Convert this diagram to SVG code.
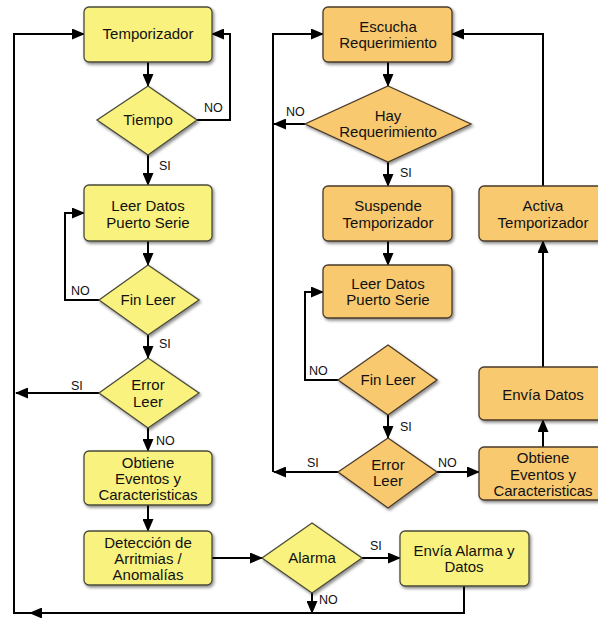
<svg xmlns="http://www.w3.org/2000/svg" width="598" height="618" viewBox="0 0 598 618">
<defs>
<marker id="ah" markerUnits="userSpaceOnUse" markerWidth="13" markerHeight="11" refX="12" refY="5.5" orient="auto"><path d="M0,0 L13,5.5 L0,11 z" fill="#000"/></marker>
<filter id="sh" x="-10%" y="-10%" width="125%" height="130%"><feDropShadow dx="1.5" dy="2" stdDeviation="1.5" flood-color="#000" flood-opacity="0.45"/></filter>
<style>
.y{fill:#F9F27E;stroke:#4a4a3a;stroke-width:1.3;filter:url(#sh)}
.o{fill:#F9C970;stroke:#4a3a2a;stroke-width:1.3;filter:url(#sh)}
text{font-family:"Liberation Sans",Arial,sans-serif;fill:#111}
.t{font-size:15px;text-anchor:middle}
.l{font-size:12.5px}
.c path{fill:none;stroke:#000;stroke-width:2}
.c .a{marker-end:url(#ah)}
</style>
</defs>
<rect width="598" height="618" fill="#fff"/>
<g class="c" id="connectors">
<path class="a" d="M148,62 V86"/>
<path class="a" d="M197,120 H230 V34 H212"/>
<path class="a" d="M148,155 V185"/>
<path class="a" d="M148,241 V265"/>
<path class="a" d="M99,300 H65 V213 H84"/>
<path class="a" d="M148,335 V358"/>
<path class="a" d="M99,393 H16"/>
<path class="a" d="M148,428 V451"/>
<path class="a" d="M148,505 V531"/>
<path class="a" d="M212,558 H262"/>
<path class="a" d="M362,558 H400"/>
<path class="a" d="M312,593 V613"/>
<path class="a" d="M464,586 V613 H30"/>
<path class="a" d="M31,613 H14 V34 H84"/>
<path class="a" d="M388,62 V86"/>
<path class="a" d="M305,124 H274"/>
<path class="a" d="M388,162 V186"/>
<path class="a" d="M388,241 V265"/>
<path class="a" d="M338,380 H305 V292 H323"/>
<path class="a" d="M388,415 V438"/>
<path class="a" d="M338,472 H274"/>
<path class="a" d="M437,472 H479"/>
<path class="a" d="M543,447 V420"/>
<path class="a" d="M543,367 V241"/>
<path class="a" d="M543,186 V34 H452"/>
<path class="a" d="M273,472 V34 H323"/>
</g>
<g id="labels">
<text class="l" x="204" y="112">NO</text>
<text class="l" x="159" y="170">SI</text>
<text class="l" x="71" y="295">NO</text>
<text class="l" x="159" y="348">SI</text>
<text class="l" x="71" y="390">SI</text>
<text class="l" x="156" y="445">NO</text>
<text class="l" x="370" y="550">SI</text>
<text class="l" x="319" y="604">NO</text>
<text class="l" x="286" y="116">NO</text>
<text class="l" x="400" y="177">SI</text>
<text class="l" x="309" y="375">NO</text>
<text class="l" x="400" y="431">SI</text>
<text class="l" x="307" y="467">SI</text>
<text class="l" x="438" y="467">NO</text>
</g>
<g id="temporizador"><rect class="y" x="84" y="7" width="128" height="55" rx="5"/><text class="t" x="148" y="39">Temporizador</text></g>
<g id="tiempo"><polygon class="y" points="148,86 197,120 148,155 97,120"/><text class="t" x="148" y="125">Tiempo</text></g>
<g id="leer1"><rect class="y" x="84" y="185" width="128" height="56" rx="5"/><text class="t" x="148" y="211">Leer Datos</text><text class="t" x="148" y="228">Puerto Serie</text></g>
<g id="finleer1"><polygon class="y" points="148,265 199,300 148,335 99,300"/><text class="t" x="148" y="305">Fin Leer</text></g>
<g id="error1"><polygon class="y" points="148,358 199,393 148,428 99,393"/><text class="t" x="148" y="390">Error</text><text class="t" x="148" y="407">Leer</text></g>
<g id="obtiene1"><rect class="y" x="84" y="451" width="128" height="54" rx="5"/><text class="t" x="148" y="468">Obtiene</text><text class="t" x="148" y="484">Eventos y</text><text class="t" x="148" y="500">Caracteristicas</text></g>
<g id="deteccion"><rect class="y" x="84" y="531" width="128" height="54" rx="5"/><text class="t" x="148" y="548">Detección de</text><text class="t" x="148" y="564">Arritmias /</text><text class="t" x="148" y="580">Anomalías</text></g>
<g id="alarma"><polygon class="y" points="312,523 362,558 312,593 262,558"/><text class="t" x="312" y="563">Alarma</text></g>
<g id="enviaalarma"><rect class="y" x="400" y="531" width="129" height="55" rx="5"/><text class="t" x="464" y="556">Envía Alarma y</text><text class="t" x="464" y="572">Datos</text></g>
<g id="escucha"><rect class="o" x="323" y="7" width="129" height="55" rx="5"/><text class="t" x="388" y="32">Escucha</text><text class="t" x="388" y="48">Requerimiento</text></g>
<g id="hayreq"><polygon class="o" points="388,86 471,124 388,162 305,124"/><text class="t" x="388" y="121">Hay</text><text class="t" x="388" y="137">Requerimiento</text></g>
<g id="suspende"><rect class="o" x="323" y="186" width="129" height="55" rx="5"/><text class="t" x="388" y="211">Suspende</text><text class="t" x="388" y="228">Temporizador</text></g>
<g id="leer2"><rect class="o" x="323" y="265" width="129" height="53" rx="5"/><text class="t" x="388" y="289">Leer Datos</text><text class="t" x="388" y="305">Puerto Serie</text></g>
<g id="finleer2"><polygon class="o" points="388,345 437,380 388,415 338,380"/><text class="t" x="388" y="385">Fin Leer</text></g>
<g id="error2"><polygon class="o" points="388,438 437,472 388,508 338,472"/><text class="t" x="388" y="470">Error</text><text class="t" x="388" y="486">Leer</text></g>
<g id="obtiene2"><rect class="o" x="479" y="447" width="128" height="53" rx="5"/><text class="t" x="543" y="463">Obtiene</text><text class="t" x="543" y="480">Eventos y</text><text class="t" x="543" y="496">Caracteristicas</text></g>
<g id="enviadatos"><rect class="o" x="479" y="367" width="128" height="53" rx="5"/><text class="t" x="543" y="400">Envía Datos</text></g>
<g id="activa"><rect class="o" x="479" y="186" width="128" height="55" rx="5"/><text class="t" x="543" y="211">Activa</text><text class="t" x="543" y="228">Temporizador</text></g>
</svg>
